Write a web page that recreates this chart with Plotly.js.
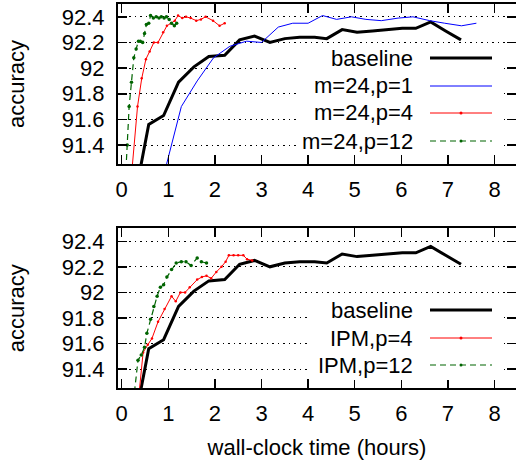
<!DOCTYPE html>
<html>
<head>
<meta charset="utf-8">
<script src="https://cdn.plot.ly/plotly-3.0.1.min.js"></script>
<style>html,body{margin:0;padding:0;background:#fff;}#chart{width:516px;height:460px;}</style>
</head>
<body>
<div id="chart"></div>
<script>
// ---- data ----
const baselineX = [0.26, 0.58, 0.90, 1.22, 1.55, 1.87, 2.21, 2.53, 2.85, 3.18, 3.50, 3.82, 4.14, 4.40, 4.73, 5.05, 5.38, 5.70, 6.02, 6.31, 6.63, 6.95, 7.28];
const baselineY = [90.95, 91.56, 91.63, 91.89, 92.01, 92.09, 92.10, 92.22, 92.25, 92.20, 92.23, 92.24, 92.24, 92.23, 92.30, 92.28, 92.29, 92.30, 92.31, 92.31, 92.36, 92.29, 92.22];

const m24p1X = [0.92, 1.28, 1.62, 1.97, 2.32, 2.68, 3.00, 3.36, 3.67, 4.00, 4.31, 4.61, 4.93, 5.24, 5.57, 5.93, 6.25, 6.61, 6.93, 7.29, 7.61];
const m24p1Y = [91.19, 91.70, 91.90, 92.08, 92.17, 92.21, 92.20, 92.32, 92.35, 92.35, 92.41, 92.38, 92.40, 92.38, 92.37, 92.39, 92.40, 92.37, 92.35, 92.33, 92.35];

const m24p4X = [0.20, 0.34, 0.43, 0.52, 0.60, 0.69, 0.78, 0.89, 0.97, 1.06, 1.14, 1.21, 1.30, 1.38, 1.48, 1.60, 1.70, 1.80, 1.96, 2.10, 2.21];
const m24p4Y = [91.12, 91.70, 91.92, 92.07, 92.13, 92.20, 92.20, 92.28, 92.33, 92.35, 92.37, 92.41, 92.39, 92.40, 92.39, 92.37, 92.38, 92.40, 92.37, 92.33, 92.35];

const m24p12X = [0.07, 0.12, 0.16, 0.21, 0.26, 0.31, 0.36, 0.40, 0.45, 0.49, 0.53, 0.58, 0.62, 0.68, 0.74, 0.80, 0.85, 0.91, 0.96, 1.02, 1.07, 1.13, 1.18];
const m24p12Y = [91.05, 91.40, 91.70, 91.89, 92.08, 92.15, 92.21, 92.21, 92.20, 92.27, 92.34, 92.35, 92.41, 92.39, 92.40, 92.39, 92.40, 92.39, 92.40, 92.38, 92.35, 92.33, 92.35];

const ipmP4X = [0.33, 0.46, 0.56, 0.65, 0.78, 0.92, 1.07, 1.16, 1.26, 1.36, 1.46, 1.62, 1.72, 1.82, 1.92, 2.03, 2.14, 2.23, 2.30, 2.40, 2.50, 2.61, 2.69, 2.80];
const ipmP4Y = [91.05, 91.53, 91.59, 91.64, 91.77, 91.87, 91.97, 91.93, 92.00, 92.00, 92.04, 92.10, 92.12, 92.13, 92.11, 92.16, 92.20, 92.24, 92.29, 92.29, 92.29, 92.29, 92.26, 92.25];

const ipmP12X = [0.25, 0.35, 0.42, 0.49, 0.54, 0.62, 0.69, 0.76, 0.83, 0.90, 0.97, 1.07, 1.17, 1.28, 1.38, 1.49, 1.62, 1.71, 1.82];
const ipmP12Y = [91.14, 91.47, 91.51, 91.57, 91.68, 91.79, 91.89, 91.97, 92.04, 92.06, 92.12, 92.18, 92.23, 92.24, 92.24, 92.21, 92.27, 92.24, 92.23];

const topNames = ["baseline", "m=24,p=1", "m=24,p=4", "m=24,p=12"];
const bottomNames = ["baseline", "IPM,p=4", "IPM,p=12"];

const yTickVals = [91.4, 91.6, 91.8, 92.0, 92.2, 92.4];
const yTickText = ["91.4", "91.6", "91.8", "92", "92.2", "92.4"];
const xTickVals = [0, 1, 2, 3, 4, 5, 6, 7, 8];

const yLabel = "accuracy";
const xLabel = "wall-clock time (hours)";

// ---- styles ----
const FONT = "Liberation Sans, Arial, Helvetica, sans-serif";
const BLACK = {color: "#000000", width: 3};
const BLUE = {color: "#0000ff", width: 1};
const RED = {color: "#ff0000", width: 1};
const GREEN = {color: "#006400", width: 1.2, dash: "6px,4px"};
const styles = [
  {line: BLACK, mode: "lines"},
  {line: BLUE, mode: "lines"},
  {line: RED, mode: "lines+markers", marker: {color: "#ff0000", size: 2.5}},
  {line: GREEN, mode: "lines+markers", marker: {color: "#006400", size: 3.5}}
];
const bottomStyles = [styles[0], styles[2], styles[3]];

function tr(x, y, name, st, xa, ya) {
  const t = {x: x, y: y, name: name, type: "scatter", mode: st.mode, line: st.line,
    xaxis: xa, yaxis: ya, showlegend: false, hoverinfo: "skip"};
  if (st.marker) t.marker = st.marker;
  return t;
}

const data = [
  tr(baselineX, baselineY, topNames[0], styles[0], "x", "y"),
  tr(m24p1X, m24p1Y, topNames[1], styles[1], "x", "y"),
  tr(m24p4X, m24p4Y, topNames[2], styles[2], "x", "y"),
  tr(m24p12X, m24p12Y, topNames[3], styles[3], "x", "y"),
  tr(baselineX, baselineY, bottomNames[0], bottomStyles[0], "x2", "y2"),
  tr(ipmP4X, ipmP4Y, bottomNames[1], bottomStyles[1], "x2", "y2"),
  tr(ipmP12X, ipmP12Y, bottomNames[2], bottomStyles[2], "x2", "y2")
];

const W = 516, H = 460, ML = 118, MR = 0, MT = 4, MB = 72;
const PW = W - ML - MR, PH = H - MT - MB;
const px2x = p => (p - ML) / PW;
const px2y = p => (H - MB - p) / PH;

const xCommon = {
  range: [-0.079, 8.46], tickvals: xTickVals, ticks: "inside", ticklen: 9, tickwidth: 1.5,
  tickcolor: "#000", showline: true, linecolor: "#000", linewidth: 2, mirror: "ticks",
  showgrid: false, zeroline: false, tickfont: {family: FONT, size: 22, color: "#000"},
  ticklabelstandoff: 5, fixedrange: true
};
const yCommon = {
  range: [91.252, 92.5], tickvals: yTickVals, ticktext: yTickText, ticks: "inside", ticklen: 9, tickwidth: 1.5,
  tickcolor: "#000", showline: true, linecolor: "#000", linewidth: 2, mirror: "ticks",
  showgrid: true, gridcolor: "#000", gridwidth: 1, griddash: "1.5px,4px", zeroline: false,
  tickfont: {family: FONT, size: 22, color: "#000"}, ticklabelstandoff: 7, fixedrange: true,
  title: {text: yLabel, font: {family: FONT, size: 22, color: "#000"}, standoff: 31}
};

// ---- hand-built legends (text left, sample right) ----
const shapes = [], annotations = [];
function addLegend(names, stList, rowsPx, box) {
  shapes.push({type: "rect", xref: "paper", yref: "paper", layer: "above",
    x0: px2x(box[0]), x1: px2x(box[1]), y0: px2y(box[3]), y1: px2y(box[2]),
    fillcolor: "#ffffff", line: {width: 0}});
  names.forEach((n, i) => {
    const yy = px2y(rowsPx[i]);
    annotations.push({xref: "paper", yref: "paper", x: px2x(415), y: yy, xanchor: "right", yanchor: "middle",
      text: n, showarrow: false, font: {family: FONT, size: 22, color: "#000"}});
    const st = stList[i];
    shapes.push({type: "line", xref: "paper", yref: "paper", layer: "above",
      x0: px2x(430), x1: px2x(492), y0: yy, y1: yy,
      line: {color: st.line.color, width: st.line.width, dash: st.line.dash || "solid"}});
    if (st.marker) {
      shapes.push({type: "circle", xref: "paper", yref: "paper", layer: "above",
        xsizemode: "pixel", ysizemode: "pixel", xanchor: px2x(461), yanchor: yy,
        x0: -1.5, x1: 1.5, y0: -1.5, y1: 1.5, fillcolor: st.marker.color, line: {width: 0}});
    }
  });
}
addLegend(topNames, styles, [58, 86, 113, 141], [297, 504, 47, 155]);
addLegend(bottomNames, bottomStyles, [310, 338, 365], [309, 504, 295, 380]);

const layout = {
  width: W, height: H,
  margin: {l: ML, r: MR, t: MT, b: MB, pad: 0},
  paper_bgcolor: "#fff", plot_bgcolor: "#fff",
  font: {family: FONT, size: 22, color: "#000"},
  showlegend: false,
  xaxis: Object.assign({}, xCommon, {anchor: "y", domain: [0, 1]}),
  yaxis: Object.assign({}, yCommon, {anchor: "x", domain: [0.5833, 1]}),
  xaxis2: Object.assign({}, xCommon, {anchor: "y2", domain: [0, 1],
    title: {text: xLabel, font: {family: FONT, size: 22, color: "#000"}, standoff: 14}}),
  yaxis2: Object.assign({}, yCommon, {anchor: "x2", domain: [0, 0.4154]}),
  shapes: shapes,
  annotations: annotations
};

Plotly.newPlot("chart", data, layout, {displayModeBar: false, staticPlot: true});
</script>
</body>
</html>
